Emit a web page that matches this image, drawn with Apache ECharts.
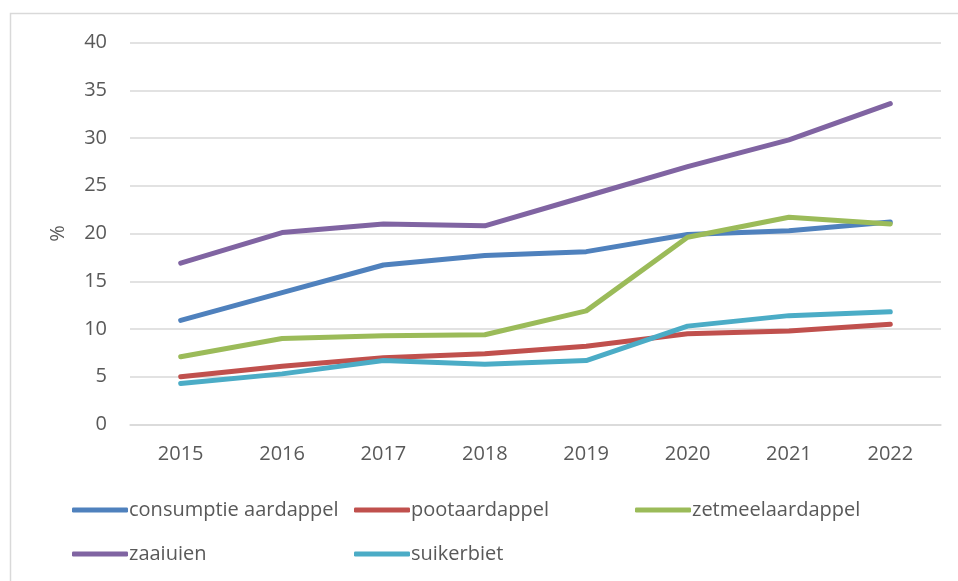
<!DOCTYPE html>
<html>
<head>
<meta charset="utf-8">
<script src="https://cdn.jsdelivr.net/npm/echarts@6/dist/echarts.min.js"></script>
<style>
html,body{margin:0;padding:0;background:#fff;}
#chart{width:958px;height:581px;}
</style>
</head>
<body>
<div id="chart"></div>
<script>
const years = ['2015','2016','2017','2018','2019','2020','2021','2022'];
const seriesNames = ['consumptie aardappel','pootaardappel','zetmeelaardappel','zaaiuien','suikerbiet'];
const consumptie = [10.9, 13.8, 16.7, 17.7, 18.1, 19.9, 20.3, 21.2];
const poot = [5.0, 6.1, 7.0, 7.4, 8.2, 9.5, 9.8, 10.5];
const zetmeel = [7.1, 9.0, 9.3, 9.4, 11.9, 19.6, 21.7, 21.0];
const zaaiuien = [16.9, 20.1, 21.0, 20.8, 23.9, 27.0, 29.8, 33.6];
const suikerbiet = [4.3, 5.3, 6.7, 6.3, 6.7, 10.3, 11.4, 11.8];
const colors = ['#4F81BD','#C0504D','#9BBB59','#8064A2','#4BACC6'];
const values = [consumptie, poot, zetmeel, zaaiuien, suikerbiet];

const FONT = 'Open Sans';
const TXT = '#595959';
const FS = 20;

const legendPos = [
  {left: 72, top: 500},
  {left: 354, top: 500},
  {left: 635, top: 500},
  {left: 72, top: 544},
  {left: 354, top: 544}
];

const chart = echarts.init(document.getElementById('chart'), null, {renderer: 'canvas'});
chart.setOption({
  animation: false,
  backgroundColor: '#fff',
  textStyle: {fontFamily: FONT},
  graphic: [{
    type: 'rect',
    shape: {x: 10.5, y: 13.5, width: 1000, height: 600},
    style: {fill: 'none', stroke: '#d9d9d9', lineWidth: 1.5},
    silent: true
  }],
  grid: {left: 130, right: 17, top: 42.5, bottom: 156.5, containLabel: false},
  legend: seriesNames.map((n, i) => ({
    data: [n],
    left: legendPos[i].left,
    top: legendPos[i].top,
    padding: 0,
    icon: 'roundRect',
    itemWidth: 56,
    itemHeight: 5,
    itemGap: 0,
    textStyle: {fontFamily: FONT, fontSize: FS, color: TXT, padding: [0, 0, 0, -4]},
    selectedMode: false
  })),
  xAxis: {
    type: 'category',
    data: years,
    boundaryGap: true,
    axisLine: {show: true, lineStyle: {color: '#d9d9d9', width: 1.5}},
    axisTick: {show: false},
    axisLabel: {fontFamily: FONT, fontSize: FS, color: TXT, margin: 20}
  },
  yAxis: {
    type: 'value',
    min: 0, max: 40, interval: 5,
    name: '%',
    nameLocation: 'middle',
    nameGap: 62,
    nameRotate: 90,
    nameTextStyle: {fontFamily: FONT, fontSize: FS, color: TXT},
    axisLine: {show: false},
    axisTick: {show: false},
    axisLabel: {fontFamily: FONT, fontSize: FS, color: TXT, margin: 23},
    splitLine: {lineStyle: {color: '#d9d9d9', width: 1.5}}
  },
  series: seriesNames.map((n, i) => ({
    name: n,
    type: 'line',
    data: values[i],
    symbol: 'none',
    smooth: false,
    color: colors[i],
    lineStyle: {width: 5, color: colors[i], cap: 'round', join: 'round'},
    itemStyle: {color: colors[i]}
  }))
});
</script>
</body>
</html>
